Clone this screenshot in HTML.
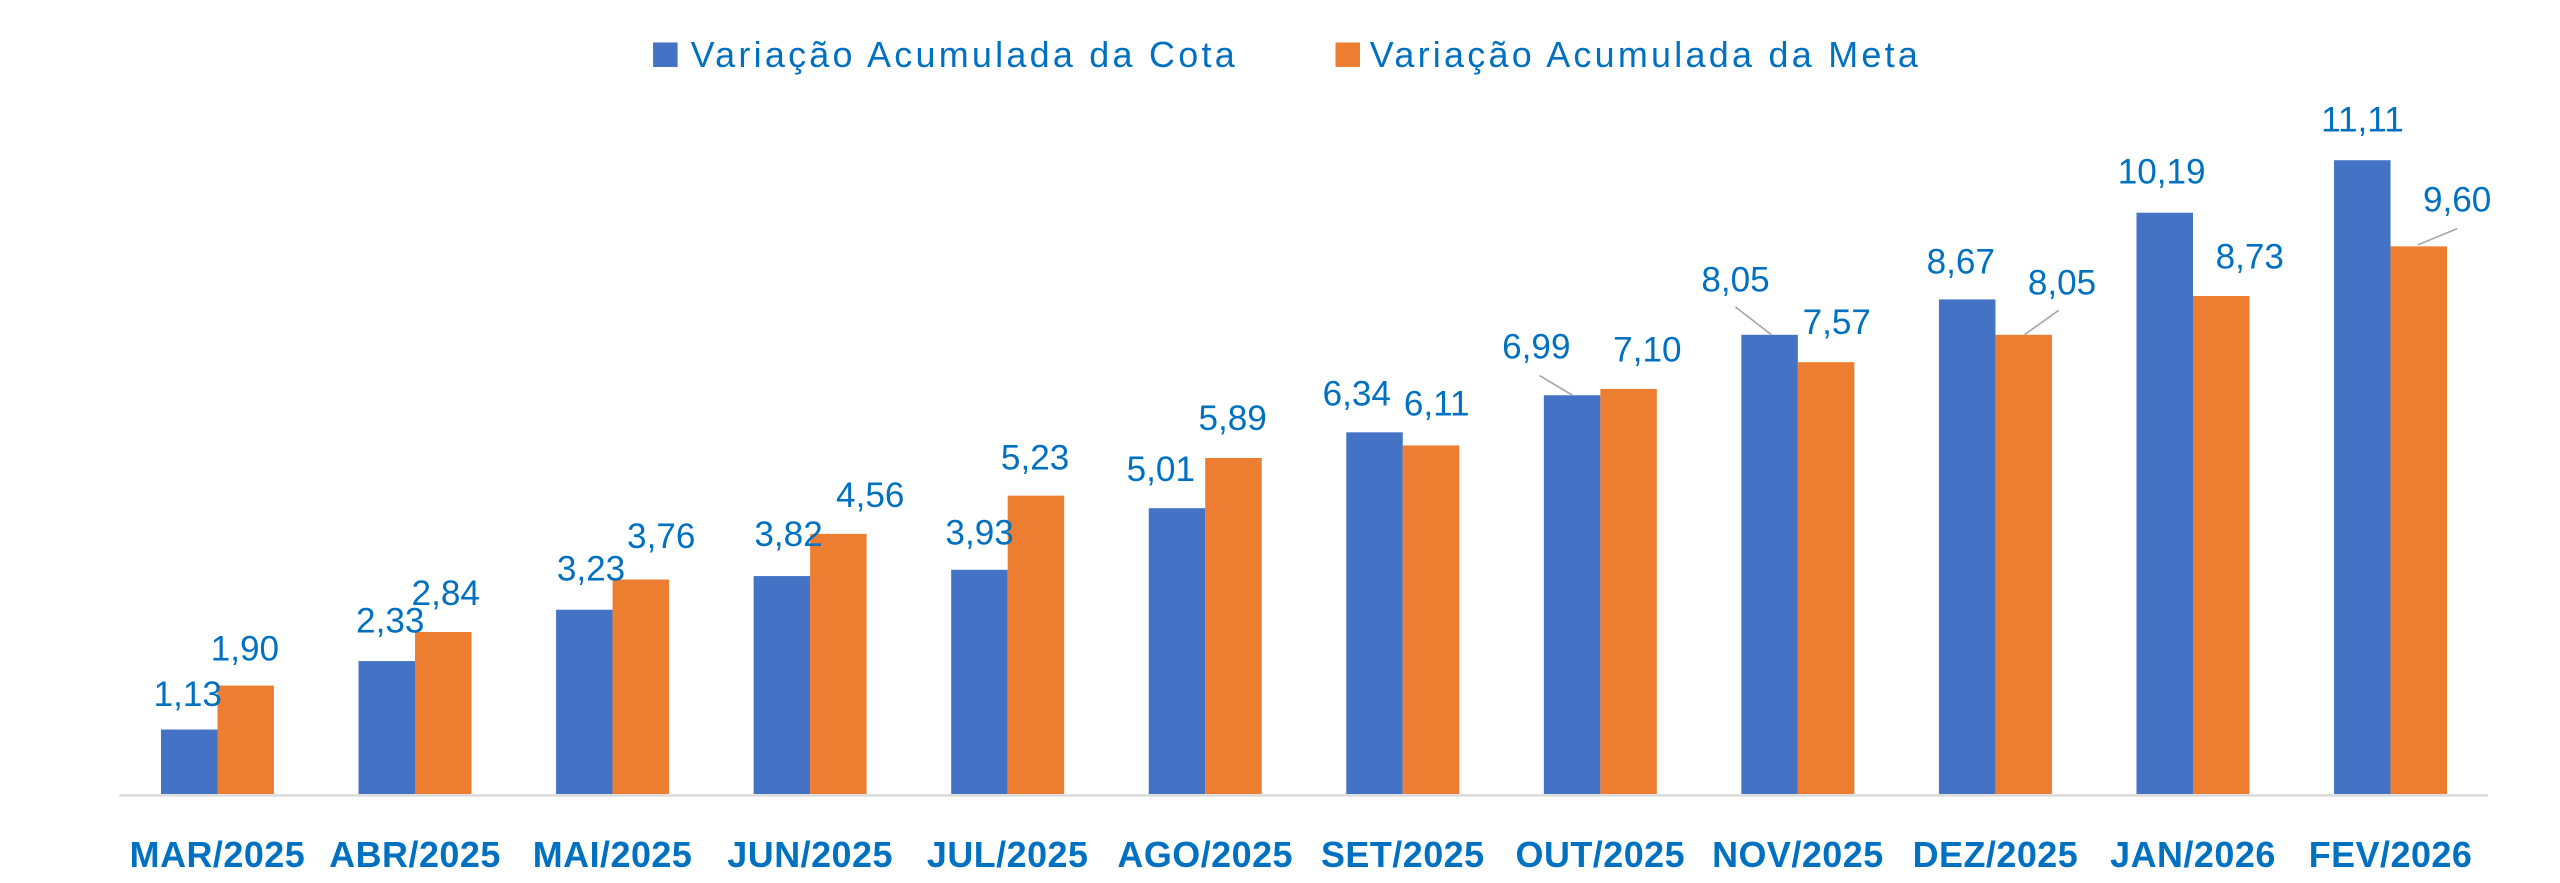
<!DOCTYPE html>
<html><head><meta charset="utf-8"><style>html,body{margin:0;padding:0;background:#fff}svg{display:block}</style></head>
<body>
<svg width="2560" height="883" viewBox="0 0 1568 540.8" xmlns="http://www.w3.org/2000/svg" font-family="Liberation Sans, sans-serif">
<rect x="0" y="0" width="1568" height="541" fill="#fff"/>
<!-- legend -->
<rect x="400" y="26" width="15" height="15" fill="#4472C4"/>
<text x="423" y="41" font-size="22" letter-spacing="2" fill="#0070C0">Variação Acumulada da Cota</text>
<rect x="818" y="26" width="15" height="15" fill="#ED7D31"/>
<text x="839" y="41" font-size="22" letter-spacing="2" fill="#0070C0">Variação Acumulada da Meta</text>
<line x1="73" y1="487.2" x2="1524" y2="487.2" stroke="#d9d9d9" stroke-width="1.5"/>
<g id="bars"></g>
<g fill="#0070C0" font-size="21.5" text-anchor="middle" id="labels"></g>
<g stroke="#a6a6a6" stroke-width="1">
<line x1="943" y1="230" x2="963" y2="242"/>
<line x1="1063" y1="188" x2="1085" y2="205"/>
<line x1="1261" y1="190" x2="1240" y2="205"/>
<line x1="1505" y1="140" x2="1481" y2="150"/>
</g>
<g fill="#0070C0" font-size="22" letter-spacing="0.3" font-weight="bold" text-anchor="middle" id="xl"></g>
<script>
var ns="http://www.w3.org/2000/svg";
var cota=[1.13,2.33,3.23,3.82,3.93,5.01,6.34,6.99,8.05,8.67,10.19,11.11];
var meta=[1.90,2.84,3.76,4.56,5.23,5.89,6.11,7.10,7.57,8.05,8.73,9.60];
var cats=["MAR/2025","ABR/2025","MAI/2025","JUN/2025","JUL/2025","AGO/2025","SET/2025","OUT/2025","NOV/2025","DEZ/2025","JAN/2026","FEV/2026"];
var lp=[[115,425,150,397],[239,380,273,363],[362,348,405,328],[483,327,533,303],[600,326,634,280],[711,287,755,256],[831,241,880,247],[941,212,1009,214],[1063,171,1125,197],[1201,160,1263,173],[1324,105,1378,157],[1447,73,1505,122]];
var base=486.3,u=34.94,w=34.6,x0=98.6,sp=121.0;
var B=document.getElementById("bars"),L=document.getElementById("labels"),X=document.getElementById("xl");
function r(x,v,c){var e=document.createElementNS(ns,"rect");e.setAttribute("x",x);e.setAttribute("y",base-v*u);e.setAttribute("width",w);e.setAttribute("height",v*u);e.setAttribute("fill",c);B.appendChild(e);}
function t(p,x,y,s){var e=document.createElementNS(ns,"text");e.setAttribute("x",x);e.setAttribute("y",y);e.textContent=s;p.appendChild(e);}
for(var i=0;i<12;i++){var x=x0+i*sp;r(x,cota[i],"#4472C4");r(x+w,meta[i],"#ED7D31");
t(L,lp[i][0],lp[i][1]+7.5,cota[i].toFixed(2).replace(".",","));
t(L,lp[i][2],lp[i][3]+7.5,meta[i].toFixed(2).replace(".",","));
t(X,x+w,531,cats[i]);}
</script>
</svg>
</body></html>
